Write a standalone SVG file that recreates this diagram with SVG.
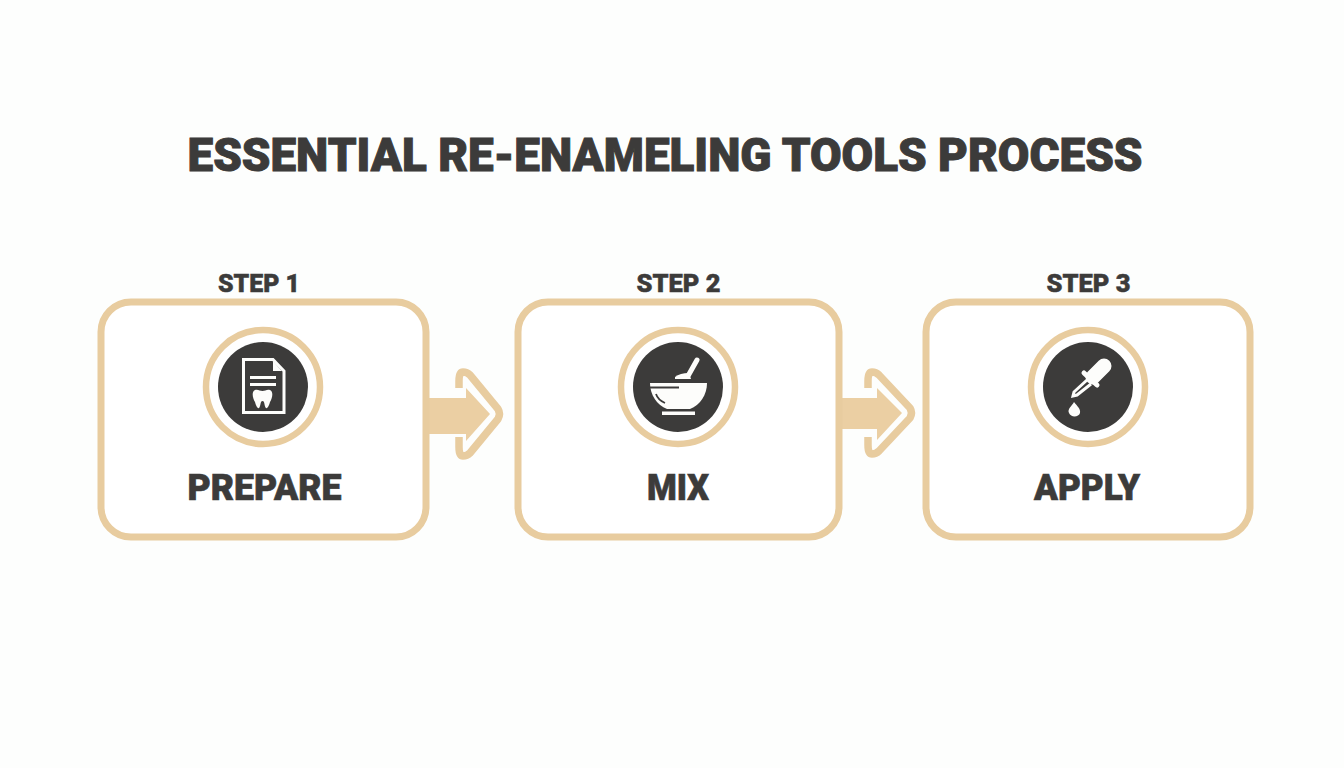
<svg xmlns="http://www.w3.org/2000/svg" width="1344" height="768" viewBox="0 0 1344 768">
<style>
text{font-family:Roboto,"Liberation Sans",sans-serif;font-weight:900;fill:#3c3b3a;stroke:#3c3b3a;text-anchor:middle}
.title{font-size:46.500px;stroke-width:1}
.step{font-size:26.500px;stroke-width:.5}
.name{font-size:36.500px;stroke-width:.7}
.box{fill:#fff;stroke:#e8cc9f;stroke-width:7}
.ring{fill:#fff;stroke:#e8cc9f;stroke-width:6.500}
.disc{fill:#3c3b3a}
.shaft{fill:#ebcfa3}
.chev{fill:none;stroke:#e8cc9f;stroke-width:7.500;stroke-linejoin:round;stroke-linecap:butt}
.ico{fill:#fdfdfb}
.icoS{fill:none;stroke:#fdfdfb;stroke-width:3}
</style>
<rect width="1344" height="768" fill="#fdfefd"/>
<text class="title" x="665" y="170.500" textLength="955" lengthAdjust="spacingAndGlyphs">ESSENTIAL RE-ENAMELING TOOLS PROCESS</text>
<g id="connectors">
<g id="arrow-1">
<path class="shaft" d="M428 398H466V388L490 414L466 441V434H428Z"/>
<path class="chev" d="M459 388V381Q459 372 463 372Q467 372 470 375L498 409Q501 414 498 419L470 453Q467 456 463 456Q459 456 459 447V437"/>
</g>
<g id="arrow-2">
<path class="shaft" d="M841 398H877V388L902 413L877 440V429H841Z"/>
<path class="chev" d="M868 388V381Q868 372 872 372Q876 372 879 375L910 408Q913 413 910 418L879 451Q876 454 872 454Q868 454 868 445V437"/>
</g>
</g>
<g id="step-1">
<rect class="box" x="101" y="302" width="325" height="235" rx="30"/>
<text class="step" x="259" y="292" textLength="82" lengthAdjust="spacingAndGlyphs">STEP 1</text>
<circle class="ring" cx="263" cy="387" r="57"/>
<circle class="disc" cx="263" cy="387" r="45"/>
<path class="icoS" d="M243.500 359.500H273L284 371V412.500H243.500Z"/>
<path class="ico" d="M273 361L282 371H273Z"/>
<path class="ico" d="M250 376H276V379H250ZM250 383H276V386H250Z"/>
<path class="ico" d="M255 390C258 389 260 391 262.500 391C265 391 267 389 270 390C274 392 272 399 270 402C269 406 267 409 266 408C264 406 265 401 262.500 401C260 401 261 406 259 408C258 409 256 406 255 402C253 399 251 392 255 390Z"/>
<text class="name" x="264.500" y="500" textLength="154" lengthAdjust="spacingAndGlyphs">PREPARE</text>
</g>
<g id="step-2">
<rect class="box" x="518" y="302" width="321" height="235" rx="30"/>
<text class="step" x="678.500" y="292" textLength="84" lengthAdjust="spacingAndGlyphs">STEP 2</text>
<circle class="ring" cx="678" cy="387" r="57"/>
<circle class="disc" cx="678" cy="387" r="45"/>
<path class="ico" d="M650 383H707C707 395 700 405 690 409H667C657 405 650 395 650 383Z"/>
<path class="ico" d="M662 411.500H695V415H662Z"/>
<path d="M650 387.500H679" stroke="#3c3b3a" stroke-width="2" fill="none"/>
<path d="M656 394Q658 400 665 403" stroke="#3c3b3a" stroke-width="1.800" fill="none"/>
<path d="M697 360L688 376" stroke="#fdfdfb" stroke-width="5" stroke-linecap="round" fill="none"/>
<path class="ico" d="M675 377Q680 373 689 373L691 379H675Z"/>
<text class="name" x="678" y="500" textLength="62" lengthAdjust="spacingAndGlyphs">MIX</text>
</g>
<g id="step-3">
<rect class="box" x="926" y="302" width="324" height="235" rx="30"/>
<text class="step" x="1088.500" y="292" textLength="84" lengthAdjust="spacingAndGlyphs">STEP 3</text>
<circle class="ring" cx="1088" cy="387" r="57"/>
<circle class="disc" cx="1088" cy="387" r="45"/>
<path d="M1104 366L1093 377" stroke="#fdfdfb" stroke-width="15" stroke-linecap="round" fill="none"/>
<path d="M1084 373L1097 385" stroke="#fdfdfb" stroke-width="5" stroke-linecap="round" fill="none"/>
<path class="icoS" stroke-width="2" d="M1087 380L1074 392L1073 396L1077 395L1091 384"/>
<path class="ico" d="M1074 402C1077 406 1081 409 1080 413C1079 417 1071 418 1069 413C1067 409 1072 406 1074 402Z"/>
<text class="name" x="1087" y="500" textLength="106" lengthAdjust="spacingAndGlyphs">APPLY</text>
</g>
</svg>
